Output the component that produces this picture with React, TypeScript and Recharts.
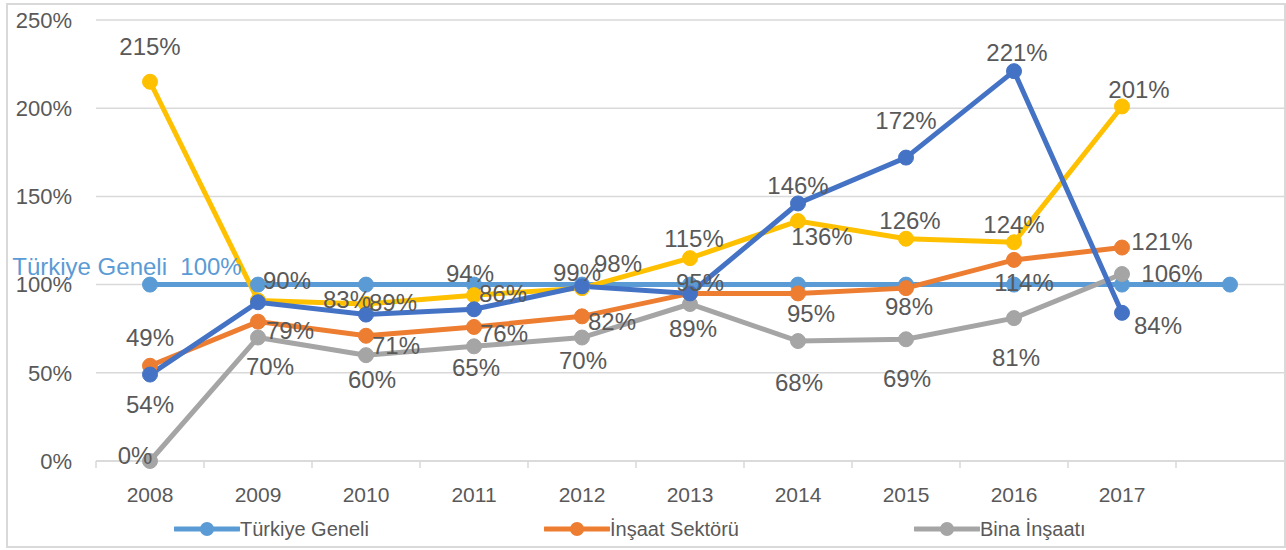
import React from 'react';
import { LineChart, Line, XAxis, YAxis, CartesianGrid, Legend, LabelList } from 'recharts';

// ---- data ----
const years = ['2008', '2009', '2010', '2011', '2012', '2013', '2014', '2015', '2016', '2017', ''];
const turkiyeGeneli = [100, 100, 100, 100, 100, 100, 100, 100, 100, 100, 100];
const insaatSektoru = [54, 79, 71, 76, 82, 95, 95, 98, 114, 121, null];
const binaInsaati = [0, 70, 60, 65, 70, 89, 68, 69, 81, 106, null];
const seriesYellow = [215, 91, 89, 94, 98, 115, 136, 126, 124, 201, null];
const seriesDarkBlue = [49, 90, 83, 86, 99, 95, 146, 172, 221, 84, null];
const yTicks = [0, 50, 100, 150, 200, 250];
const legendNames = ['Türkiye Geneli', 'İnşaat Sektörü', 'Bina İnşaatı'];

// ---- style config ----
const FONT = '"Liberation Sans", Arial, sans-serif';
const TEXT = '#595959';
const GRID = '#d9d9d9';
const COLORS = { lb: '#5B9BD5', or: '#ED7D31', gr: '#A5A5A5', ye: '#FFC000', db: '#4472C4' };
const CHART_W = 1286;
const CHART_H = 550;
const Y_W = 96;
const MARGIN = { top: 20, right: 2, left: 0, bottom: 3 };
const BAND = (CHART_W - Y_W - MARGIN.left - MARGIN.right) / years.length;

// label offsets [dx, dy] relative to each point; null = no label
type Off = [number, number] | null;
const LABEL_OFFSETS: Record<string, Off[]> = {
  lb: [[-23, -18], null, null, null, null, null, null, null, null, null, null],
  or: [[0, 39], [32, 9], [30, 10], [30, 7], [30, 5], null, [13, 20], [3, 18], [10, 23], [40, -6], null],
  gr: [[-15, -6], [12, 29], [6, 24], [2, 21], [1, 23], [3, 24], [1, 41], [1, 39], [2, 39], [50, -1], null],
  ye: [[0, -35], null, [27, -2], [-4, -22], [36, -25], [4, -20], [24, 15], [4, -18], [0, -18], [17, -17], null],
  db: [[0, -37], [29, -22], [-19, -15], [29, -16], [-5, -14], [10, -11], [0, -18], [0, -37], [3, -19], [36, 13], null],
};

const data = years.map((year, i) => ({
  year,
  lb: turkiyeGeneli[i],
  or: insaatSektoru[i],
  gr: binaInsaati[i],
  ye: seriesYellow[i],
  db: seriesDarkBlue[i],
}));

const makeLabel = (key: string) => (props: any) => {
  const { x, y, value, index } = props;
  const off = LABEL_OFFSETS[key][index];
  if (!off || value == null) return null;
  const isLb = key === 'lb';
  const text = isLb ? `${legendNames[0]}\u00A0 ${value}%` : `${value}%`;
  return (
    <text
      x={x + off[0]}
      y={y + off[1]}
      textAnchor="middle"
      dominantBaseline="central"
      fontFamily={FONT}
      fontSize={24}
      fill={isLb ? COLORS.lb : TEXT}
    >
      {text}
    </text>
  );
};

const XTick = (props: any) => {
  const { x, y, payload } = props;
  return (
    <g>
      <line x1={x - BAND / 2} x2={x - BAND / 2} y1={y} y2={y + 7} stroke={GRID} strokeWidth={1.5} />
      <text x={x} y={y + 41} textAnchor="middle" fontFamily={FONT} fontSize={21} fill={TEXT}>
        {payload.value}
      </text>
    </g>
  );
};

const legendColors = [COLORS.lb, COLORS.or, COLORS.gr];

const LegendContent = () => (
  <div
    style={{
      height: 44,
      boxSizing: 'border-box',
      paddingTop: 8,
      paddingLeft: 174,
      display: 'flex',
      alignItems: 'center',
      fontFamily: FONT,
      fontSize: 20,
      color: TEXT,
    }}
  >
    {legendNames.map((name, i) => (
      <div key={name} style={{ width: 380, display: 'flex', alignItems: 'center' }}>
        <svg width={66} height={18} style={{ display: 'block' }}>
          <line x1={1} x2={65} y1={9} y2={9} stroke={legendColors[i]} strokeWidth={5} strokeLinecap="round" />
          <circle cx={33} cy={9} r={7} fill={legendColors[i]} />
        </svg>
        <span>{name}</span>
      </div>
    ))}
  </div>
);

const seriesKeys = ['lb', 'or', 'gr', 'ye', 'db'];

export default function App() {
  return (
    <div style={{ position: 'absolute', left: 0, top: 0, width: CHART_W, height: CHART_H, background: '#fff' }}>
      <div
        style={{
          position: 'absolute',
          left: 6,
          top: 3,
          width: 1280,
          height: 545,
          border: `2px solid ${GRID}`,
          boxSizing: 'border-box',
        }}
      />
      <LineChart width={CHART_W} height={CHART_H} data={data} margin={MARGIN}>
        <CartesianGrid vertical={false} stroke={GRID} strokeWidth={1.5} />
        <XAxis
          dataKey="year"
          interval={0}
          padding={{ left: BAND / 2, right: BAND / 2 }}
          axisLine={{ stroke: GRID, strokeWidth: 1.5 }}
          tickLine={false}
          tickSize={0}
          tickMargin={0}
          height={42}
          tick={<XTick />}
        />
        <YAxis
          width={Y_W}
          domain={[0, 250]}
          ticks={yTicks}
          tickFormatter={(v: number) => `${v}%`}
          axisLine={false}
          tickLine={false}
          tickSize={0}
          tickMargin={24}
          tick={{ fontFamily: FONT, fontSize: 22, fill: TEXT }}
        />
        <Legend verticalAlign="bottom" content={<LegendContent />} />
        {seriesKeys.map((k) => (
          <Line
            key={k}
            dataKey={k}
            stroke={(COLORS as any)[k]}
            strokeWidth={5}
            dot={{ r: 7.5, fill: (COLORS as any)[k], stroke: (COLORS as any)[k], strokeWidth: 1 }}
            activeDot={false}
            isAnimationActive={false}
            legendType="none"
          />
        ))}
        {seriesKeys.map((k) => (
          <Line
            key={`lbl-${k}`}
            dataKey={k}
            stroke="none"
            dot={false}
            activeDot={false}
            isAnimationActive={false}
            legendType="none"
          >
            <LabelList dataKey={k} content={makeLabel(k)} />
          </Line>
        ))}
      </LineChart>
    </div>
  );
}
